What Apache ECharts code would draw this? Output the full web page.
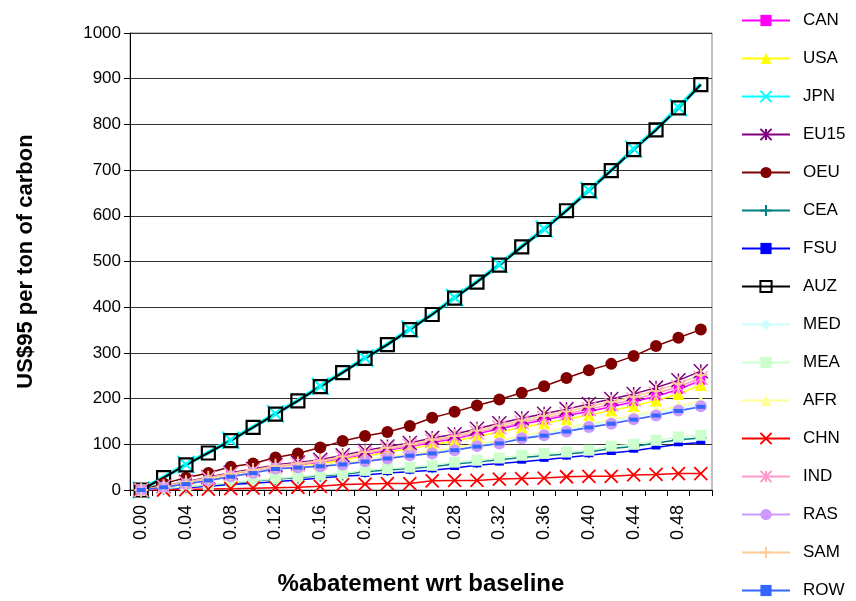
<!DOCTYPE html>
<html><head><meta charset="utf-8">
<script src="https://cdn.jsdelivr.net/npm/echarts@6/dist/echarts.min.js"></script>
<style>html,body{margin:0;padding:0;background:#fff}#c{width:856px;height:601px}</style>
</head><body><div id="c"></div>
<script>
const categories = ['0.00','0.02','0.04','0.06','0.08','0.10','0.12','0.14','0.16','0.18','0.20','0.22','0.24','0.26','0.28','0.30','0.32','0.34','0.36','0.38','0.40','0.42','0.44','0.46','0.48','0.50'];
const yTicks = [0,100,200,300,400,500,600,700,800,900,1000];
const CAN  = [0, 7, 16, 25, 34, 42, 50, 55, 60, 69, 78, 87, 95, 104, 112, 123, 134, 144, 153, 163, 172, 182, 193, 205, 220, 240];
const USA  = [0, 7, 15, 24, 32, 40, 48, 52, 57, 66, 74, 83, 90, 99, 107, 117, 127, 137, 146, 155, 164, 174, 184, 196, 210, 230];
const JPN  = [0, 28, 56, 82, 109, 138, 167, 196, 227, 258, 289, 319, 352, 385, 421, 456, 493, 533, 571, 612, 656, 700, 746, 789, 837, 888];
const EU15 = [0, 8, 18, 28, 38, 46, 55, 60, 66, 76, 86, 95, 103, 114, 122, 134, 146, 157, 167, 177, 188, 199, 210, 224, 240, 260];
const OEU  = [0, 14, 27, 37, 51, 58, 71, 80, 93, 107, 118, 127, 140, 158, 171, 185, 198, 213, 227, 245, 262, 276, 293, 315, 333, 351];
const CEA  = [0, 3, 6, 10, 15, 19, 24, 27, 31, 34, 40, 44, 47, 51, 57, 61, 66, 71, 75, 79, 83, 91, 95, 103, 110, 114];
const FSU  = [0, 2, 5, 8, 12, 15, 18, 22, 26, 30, 33, 37, 40, 43, 48, 54, 58, 62, 66, 71, 76, 81, 86, 93, 100, 104];
const AUZ  = [0, 27, 55, 81, 108, 137, 166, 195, 226, 257, 288, 318, 351, 384, 420, 455, 492, 532, 570, 611, 655, 699, 745, 788, 836, 887];
const MED  = [0, 6, 14, 21, 31, 39, 48, 50, 54, 58, 65, 71, 78, 82, 89, 98, 105, 116, 123, 132, 142, 150, 160, 168, 179, 189];
const MEA  = [0, 3, 7, 11, 16, 20, 25, 29, 33, 36, 43, 47, 50, 54, 61, 65, 70, 76, 80, 83, 87, 96, 100, 109, 116, 120];
const AFR  = [0, 7, 14, 22, 32, 40, 50, 52, 55, 60, 67, 73, 80, 85, 92, 101, 108, 119, 127, 136, 146, 154, 164, 173, 184, 194];
const CHN  = [0, 0, 1, 2, 3, 4, 5, 6, 8, 12, 13, 14, 14, 20, 21, 21, 24, 25, 26, 29, 30, 30, 33, 34, 36, 36];
const IND  = [0, 7, 16, 26, 35, 43, 51, 56, 62, 71, 80, 89, 97, 107, 115, 126, 137, 148, 157, 167, 177, 187, 198, 211, 226, 245];
const RAS  = [0, 6, 13, 21, 30, 38, 47, 49, 52, 56, 63, 69, 76, 80, 87, 96, 102, 113, 120, 128, 138, 145, 155, 163, 174, 183];
const SAM  = [0, 8, 17, 27, 36, 44, 53, 58, 64, 73, 83, 92, 100, 110, 118, 130, 141, 152, 162, 172, 182, 193, 204, 217, 233, 252];
const ROW  = [0, 6, 13, 21, 29, 37, 46, 49, 52, 56, 62, 69, 75, 80, 87, 95, 102, 112, 119, 128, 137, 145, 154, 163, 173, 182];

const XPATH = 'path://M0,0L10,10M10,0L0,10';
const PLUS = 'path://M5,0L5,10M0,5L10,5';
const ASTER = 'path://M5,0L5,10M0,0L10,10M10,0L0,10';
const DASH = 'path://M0,0L10,0L10,4L0,4Z';

function mk(name, data, color, symbol, size, opts) {
  opts = opts || {};
  return {
    name, type: 'line', data, symbol, symbolSize: size,
    lineStyle: { color, width: opts.lw || 1.5 },
    itemStyle: { color: opts.fill !== undefined ? opts.fill : color, borderColor: opts.bc || color, borderWidth: opts.bw || 0 },
    emphasis: { disabled: true },
    animation: false
  };
}

const series = [
  mk('CAN', CAN, '#ff00ff', 'rect', 9),
  mk('USA', USA, '#ffff00', 'triangle', 12),
  mk('JPN', JPN, '#00ffff', XPATH, 17, { lw: 4, bw: 2.2 }),
  mk('EU15', EU15, '#800080', ASTER, 14, { bw: 1.5 }),
  mk('OEU', OEU, '#800000', 'circle', 12),
  mk('CEA', CEA, '#008080', PLUS, 12, { bw: 1.5 }),
  mk('FSU', FSU, '#0000ff', DASH, [9, 4]),
  mk('AUZ', AUZ, '#000000', 'rect', 13, { fill: 'rgba(0,0,0,0)', bw: 2.2, lw: 2 }),
  mk('MED', MED, '#ccffff', 'diamond', 12),
  mk('MEA', MEA, '#ccffcc', 'rect', 11),
  mk('AFR', AFR, '#ffff99', 'triangle', 12),
  mk('CHN', CHN, '#ff0000', XPATH, 13, { bw: 1.8 }),
  mk('IND', IND, '#ff99cc', ASTER, 14, { bw: 1.5 }),
  mk('RAS', RAS, '#cc99ff', 'circle', 12),
  mk('SAM', SAM, '#ffcc99', PLUS, 14, { bw: 1.8 }),
  mk('ROW', ROW, '#3366ff', DASH, [9, 4])
];

const chart = echarts.init(document.getElementById('c'), null, { renderer: 'canvas' });
chart.setOption({
  animation: false,
  backgroundColor: '#ffffff',
  textStyle: { fontFamily: 'Liberation Sans, Arial, sans-serif' },
  grid: { left: 130, right: 144, top: 33, bottom: 111, show: true, borderColor: '#808080', borderWidth: 1, backgroundColor: 'transparent' },
  legend: {
    orient: 'vertical', left: 741, top: 12, height: 589, padding: 0,
    itemWidth: 48, itemHeight: 14, itemGap: 21,
    textStyle: { fontSize: 17, color: '#000', fontFamily: 'Liberation Sans, Arial, sans-serif', padding: [0, 0, 0, 8] },
    data: series.map(s => s.name)
  },
  xAxis: {
    type: 'category', data: categories, boundaryGap: true,
    name: '%abatement wrt baseline', nameLocation: 'middle', nameGap: 82,
    nameTextStyle: { fontSize: 24, fontWeight: 'bold', color: '#000' },
    axisLine: { lineStyle: { color: '#000', width: 1 } },
    axisTick: { show: true, interval: 0, alignWithLabel: false, length: 6, lineStyle: { color: '#000' } },
    axisLabel: { interval: 1, rotate: 90, fontSize: 18, color: '#000', margin: 15 },
    splitLine: { show: false }
  },
  yAxis: {
    type: 'value', min: 0, max: 1000, interval: 100,
    name: 'US$95 per ton of carbon', nameLocation: 'middle', nameGap: 93,
    nameTextStyle: { fontSize: 22, fontWeight: 'bold', color: '#000' },
    axisLine: { show: true, lineStyle: { color: '#000', width: 1 } },
    axisTick: { show: true, length: 6, inside: false, lineStyle: { color: '#000' } },
    axisLabel: { fontSize: 17, color: '#000', margin: 9, formatter: v => yTicks.includes(v) ? String(v) : '' },
    splitLine: { show: true, lineStyle: { color: '#333', width: 1 } }
  },
  series
});
</script></body></html>
